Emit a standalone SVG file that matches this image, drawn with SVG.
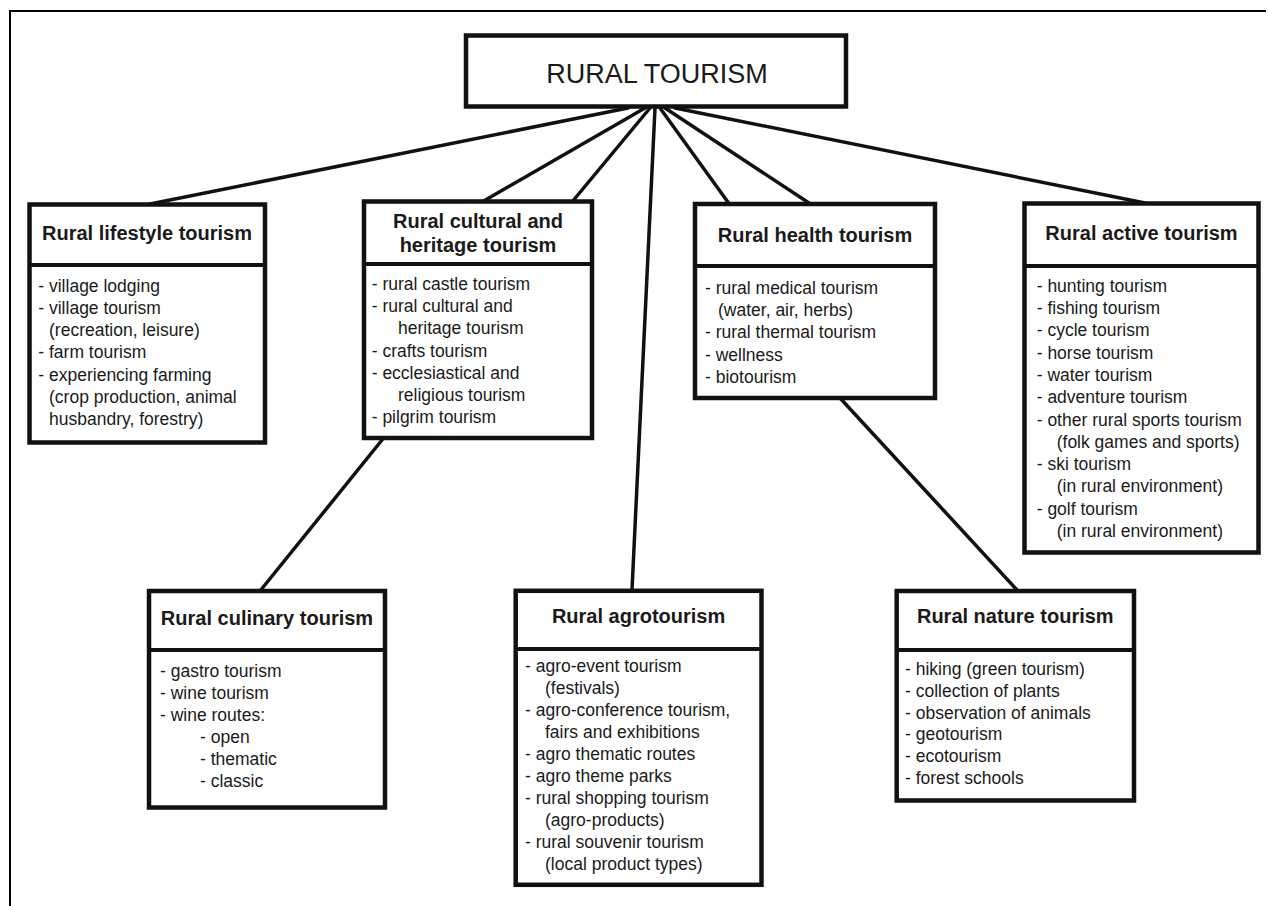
<svg xmlns="http://www.w3.org/2000/svg" width="1268" height="906" viewBox="0 0 1268 906">
<style>
.box{fill:#fff;stroke:#111;stroke-width:4.5}
.div{stroke:#111;stroke-width:4}
.hd{font-family:"Liberation Sans",Arial,sans-serif;font-weight:bold;font-size:20px;fill:#1a1a1a;text-anchor:middle}
.bd{font-family:"Liberation Sans",Arial,sans-serif;font-size:17.5px;fill:#1a1a1a}
.cn{stroke:#111;stroke-width:3.5;fill:none;stroke-linecap:round}
</style>
<rect width="1268" height="906" fill="#fff"/>
<path d="M10 906 V11 H1266" fill="none" stroke="#000" stroke-width="2"/>
<g id="connectors">
<line class="cn" x1="628" y1="108" x2="150" y2="204"/>
<line class="cn" x1="645" y1="108" x2="482" y2="202"/>
<line class="cn" x1="650" y1="108" x2="572" y2="202"/>
<line class="cn" x1="655" y1="108" x2="632" y2="590"/>
<line class="cn" x1="660" y1="108" x2="730" y2="205"/>
<line class="cn" x1="665" y1="108" x2="812" y2="205"/>
<line class="cn" x1="675" y1="108" x2="1145" y2="203"/>
<line class="cn" x1="382" y1="440" x2="260" y2="591"/>
<line class="cn" x1="840" y1="398" x2="1018" y2="591"/>
</g>
<g id="root">
<rect class="box" x="466" y="35.5" width="380" height="71" stroke-width="5"/>
<text x="657" y="83" font-family="Liberation Sans,Arial,sans-serif" font-size="27" fill="#1a1a1a" text-anchor="middle">RURAL TOURISM</text>
</g>
<g id="lifestyle">
<rect class="box" x="29.5" y="204.5" width="235.5" height="238"/>
<line class="div" x1="29.5" y1="265" x2="265" y2="265"/>
<text class="hd" x="147" y="240">Rural lifestyle tourism</text>
<text class="bd" x="38.3" y="291.7">- village lodging</text>
<text class="bd" x="38.3" y="313.9">- village tourism</text>
<text class="bd" x="49" y="336.1">(recreation, leisure)</text>
<text class="bd" x="38.3" y="358.3">- farm tourism</text>
<text class="bd" x="38.3" y="380.5">- experiencing farming</text>
<text class="bd" x="49" y="402.7">(crop production, animal</text>
<text class="bd" x="49" y="424.9">husbandry, forestry)</text>
</g>
<g id="cultural">
<rect class="box" x="364" y="201.5" width="228" height="236.5"/>
<line class="div" x1="364" y1="264" x2="592" y2="264"/>
<text class="hd" x="478" y="228.3">Rural cultural and</text>
<text class="hd" x="478" y="251.7">heritage tourism</text>
<text class="bd" x="371.7" y="290">- rural castle tourism</text>
<text class="bd" x="371.7" y="312.2">- rural cultural and</text>
<text class="bd" x="398" y="334.4">heritage tourism</text>
<text class="bd" x="371.7" y="356.6">- crafts tourism</text>
<text class="bd" x="371.7" y="378.8">- ecclesiastical and</text>
<text class="bd" x="398" y="401">religious tourism</text>
<text class="bd" x="371.7" y="423.2">- pilgrim tourism</text>
</g>
<g id="health">
<rect class="box" x="695" y="204" width="240" height="194"/>
<line class="div" x1="695" y1="266" x2="935" y2="266"/>
<text class="hd" x="815" y="241.7">Rural health tourism</text>
<text class="bd" x="705" y="294">- rural medical tourism</text>
<text class="bd" x="718" y="316.2">(water, air, herbs)</text>
<text class="bd" x="705" y="338.4">- rural thermal tourism</text>
<text class="bd" x="705" y="360.6">- wellness</text>
<text class="bd" x="705" y="382.8">- biotourism</text>
</g>
<g id="active">
<rect class="box" x="1024.5" y="203.5" width="234" height="349"/>
<line class="div" x1="1024.5" y1="266" x2="1258.5" y2="266"/>
<text class="hd" x="1141.5" y="240">Rural active tourism</text>
<text class="bd" x="1036.7" y="291.7">- hunting tourism</text>
<text class="bd" x="1036.7" y="314">- fishing tourism</text>
<text class="bd" x="1036.7" y="336.3">- cycle tourism</text>
<text class="bd" x="1036.7" y="358.6">- horse tourism</text>
<text class="bd" x="1036.7" y="380.9">- water tourism</text>
<text class="bd" x="1036.7" y="403.2">- adventure tourism</text>
<text class="bd" x="1036.7" y="425.5">- other rural sports tourism</text>
<text class="bd" x="1056.7" y="447.8">(folk games and sports)</text>
<text class="bd" x="1036.7" y="470.1">- ski tourism</text>
<text class="bd" x="1056.7" y="492.4">(in rural environment)</text>
<text class="bd" x="1036.7" y="514.7">- golf tourism</text>
<text class="bd" x="1056.7" y="537">(in rural environment)</text>
</g>
<g id="culinary">
<rect class="box" x="149" y="591" width="236" height="216.5"/>
<line class="div" x1="149" y1="650" x2="385" y2="650"/>
<text class="hd" x="267" y="625">Rural culinary tourism</text>
<text class="bd" x="160" y="676.7">- gastro tourism</text>
<text class="bd" x="160" y="698.7">- wine tourism</text>
<text class="bd" x="160" y="720.7">- wine routes:</text>
<text class="bd" x="200" y="742.7">- open</text>
<text class="bd" x="200" y="764.7">- thematic</text>
<text class="bd" x="200" y="786.7">- classic</text>
</g>
<g id="agro">
<rect class="box" x="515.7" y="590.8" width="245.8" height="294"/>
<line class="div" x1="515.7" y1="649" x2="761.5" y2="649"/>
<text class="hd" x="638.6" y="623.3">Rural agrotourism</text>
<text class="bd" x="525" y="671.7">- agro-event tourism</text>
<text class="bd" x="545" y="693.8">(festivals)</text>
<text class="bd" x="525" y="715.8">- agro-conference tourism,</text>
<text class="bd" x="545" y="737.8">fairs and exhibitions</text>
<text class="bd" x="525" y="759.8">- agro thematic routes</text>
<text class="bd" x="525" y="781.8">- agro theme parks</text>
<text class="bd" x="525" y="803.9">- rural shopping tourism</text>
<text class="bd" x="545" y="825.9">(agro-products)</text>
<text class="bd" x="525" y="847.9">- rural souvenir tourism</text>
<text class="bd" x="545" y="870">(local product types)</text>
</g>
<g id="nature">
<rect class="box" x="896.7" y="591" width="237.3" height="209.5"/>
<line class="div" x1="896.7" y1="650" x2="1134" y2="650"/>
<text class="hd" x="1015.3" y="623.3">Rural nature tourism</text>
<text class="bd" x="905" y="675">- hiking (green tourism)</text>
<text class="bd" x="905" y="696.8">- collection of plants</text>
<text class="bd" x="905" y="718.6">- observation of animals</text>
<text class="bd" x="905" y="740.4">- geotourism</text>
<text class="bd" x="905" y="762.2">- ecotourism</text>
<text class="bd" x="905" y="784">- forest schools</text>
</g>
</svg>
